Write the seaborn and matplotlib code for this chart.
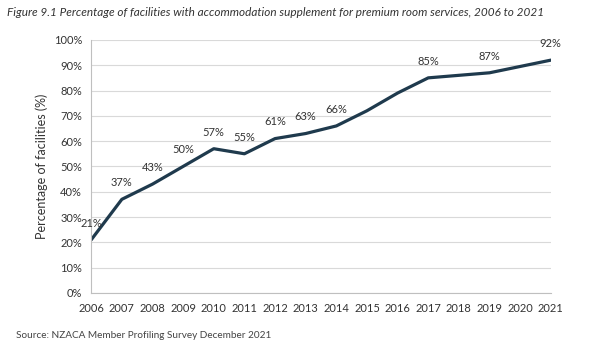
import pandas as pd
import matplotlib.pyplot as plt
import seaborn as sns

# data
years = list(range(2006, 2022))
pct = [21, 37, 43, 50, 57, 55, 61, 63, 66, 72, 79, 85, 86, 87, 89.5, 92]
labelled_years = [2006, 2007, 2008, 2009, 2010, 2011, 2012, 2013, 2014, 2017, 2019, 2021]

df = pd.DataFrame({'Year': years, 'Pct': pct})

sns.set_style('white')
plt.rcParams['font.family'] = ['Lato', 'DejaVu Sans']

fig = plt.figure(figsize=(6, 3.5), dpi=100)
ax = fig.add_axes([0.152, 0.163, 0.766, 0.723])

sns.lineplot(data=df, x='Year', y='Pct', ax=ax, color='#1f3a4d', linewidth=2.3)

for y, p in zip(years, pct):
    if y not in labelled_years:
        continue
    ax.annotate(f'{p:.0f}%', (y, p), xytext=(0, 8), textcoords='offset points',
                ha='center', va='bottom', fontsize=8, color='#333333')

ax.set_xlim(2006, 2021)
ax.set_ylim(0, 100)
ax.set_xticks(years)
ax.set_yticks(range(0, 101, 10))
ax.set_yticklabels([f'{v}%' for v in range(0, 101, 10)])
ax.tick_params(axis='both', labelsize=8, colors='#333333', length=3, color='#bfbfbf')
ax.tick_params(axis='x', direction='out', pad=4)
ax.yaxis.grid(True, color='#d9d9d9', linewidth=0.8)
ax.set_axisbelow(True)
for s in ['top', 'right']:
    ax.spines[s].set_visible(False)
for s in ['left', 'bottom']:
    ax.spines[s].set_color('#bfbfbf')
    ax.spines[s].set_linewidth(0.8)
ax.set_xlabel('')
ax.set_ylabel('Percentage of facilities (%)', fontsize=9, color='#333333')

fig.text(0.012, 0.965, 'Figure 9.1 Percentage of facilities with accommodation supplement for premium room services, 2006 to 2021',
         fontsize=8.5, style='italic', color='#333333', va='center')
fig.text(0.027, 0.04, 'Source: NZACA Member Profiling Survey December 2021',
         fontsize=7.2, color='#444444', va='center')

fig.savefig('out.png', dpi=100)
